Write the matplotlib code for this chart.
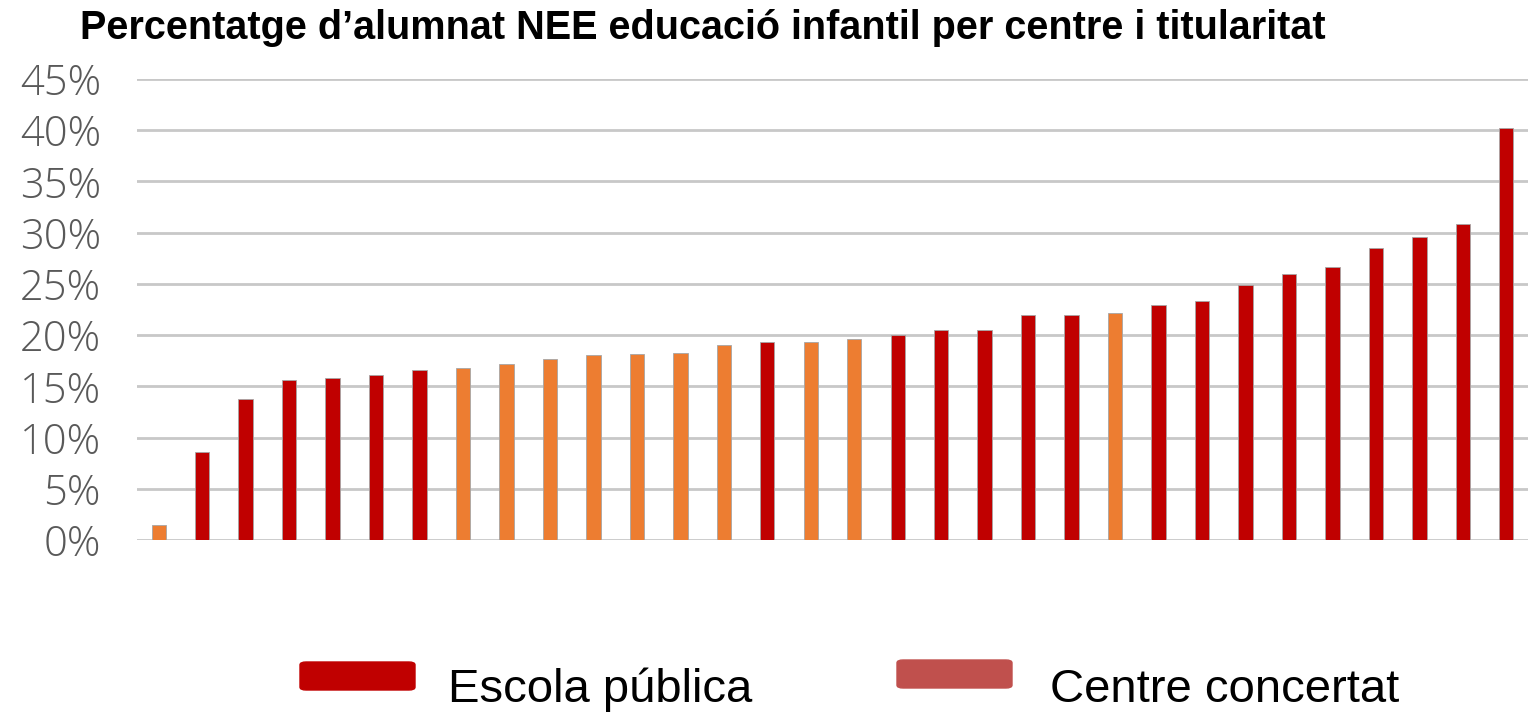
import matplotlib
matplotlib.use("Agg")
from matplotlib import pyplot as plt
from matplotlib.patches import FancyBboxPatch

# percentage of NEE pupils in infant education, one bar per centre
values = [1.5, 8.6, 13.8, 15.6, 15.8, 16.1, 16.6, 16.8, 17.2, 17.7, 18.1, 18.2, 18.3, 19.0,
          19.3, 19.3, 19.6, 20.0, 20.5, 20.5, 22.0, 22.0, 22.2, 22.9, 23.3, 24.9, 26.0, 26.6,
          28.5, 29.6, 30.8, 40.2]
# P = escola pública, C = centre concertat
ownership = ["C", "P", "P", "P", "P", "P", "P", "C", "C", "C", "C", "C", "C", "C",
             "P", "C", "C", "P", "P", "P", "P", "P", "C", "P", "P", "P", "P", "P",
             "P", "P", "P", "P"]
yticks = [0, 5, 10, 15, 20, 25, 30, 35, 40, 45]
title = "Percentatge d\u2019alumnat NEE educació infantil per centre i titularitat"
legendLabels = ["Escola pública", "Centre concertat"]

barColors = {"P": "#C00000", "C": "#ED7D31"}
legendColors = ["#C00000", "#C0504D"]

fig = plt.figure(figsize=(15.28, 7.17), dpi=100)
ax = fig.add_axes([137 / 1528, 1 - 540 / 717, 1 - 137 / 1528, (540 - 79) / 717])

x = list(range(len(values)))
ax.bar(x, values, width=0.33, color=[barColors[o] for o in ownership],
       edgecolor="#A6A6A6", linewidth=0.6, zorder=3)

ax.set_xlim(-0.5, len(values) - 0.5)
ax.set_ylim(0, 45)
ax.set_yticks(yticks)
ax.set_yticklabels([str(t) + "%" for t in yticks], fontsize=30, color="#595959",
                   fontfamily="Open Sans", fontweight="light")
ax.tick_params(axis="y", length=0, pad=26)
ax.set_xticks([])
ax.yaxis.grid(True, color="#C8C8C8", linewidth=2)
for s in ax.spines.values():
    s.set_visible(False)

fig.text(80 / 1528, 1 - 28 / 717, title, fontsize=28.5, fontweight="bold",
         fontfamily="Liberation Sans", va="center", ha="left")

# legend drawn by hand to match the original layout
legendBoxes = [(300, 662), (897, 660)]
legendText = [(448, 690), (1050, 690)]
for i in range(2):
    bx, by = legendBoxes[i]
    fig.add_artist(FancyBboxPatch((bx / 1528, 1 - (by + 28) / 717), 115 / 1528, 28 / 717,
                                  boxstyle="round,pad=0,rounding_size=0.004",
                                  transform=fig.transFigure, color=legendColors[i]))
    tx, ty = legendText[i]
    fig.text(tx / 1528, 1 - ty / 717, legendLabels[i], fontsize=34,
             fontfamily=["Liberation Sans Narrow", "Liberation Sans"], va="center", ha="left")

fig.savefig("out.png", dpi=100)
